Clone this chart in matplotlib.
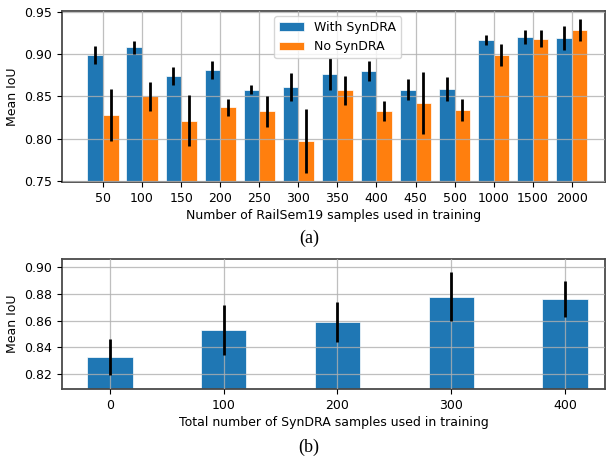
import numpy as np
import matplotlib.pyplot as plt

# Top panel: RailSem19 sample counts
rs_labels = ["50", "100", "150", "200", "250", "300", "350", "400", "450", "500", "1000", "1500", "2000"]
with_mean = [0.899, 0.908, 0.874, 0.881, 0.858, 0.861, 0.876, 0.880, 0.858, 0.859, 0.917, 0.920, 0.919]
with_err = [0.011, 0.008, 0.011, 0.011, 0.005, 0.017, 0.019, 0.012, 0.012, 0.014, 0.006, 0.008, 0.014]
no_mean = [0.828, 0.850, 0.821, 0.837, 0.832, 0.797, 0.857, 0.833, 0.842, 0.834, 0.899, 0.918, 0.929]
no_err = [0.031, 0.017, 0.030, 0.010, 0.018, 0.038, 0.017, 0.012, 0.037, 0.013, 0.013, 0.010, 0.013]

# Bottom panel: SynDRA sample counts
syn_counts = [0, 100, 200, 300, 400]
syn_mean = [0.833, 0.853, 0.859, 0.878, 0.876]
syn_err = [0.0134, 0.019, 0.015, 0.018, 0.0135]

blue = '#1f77b4'
orange = '#ff7f0e'

fig = plt.figure(figsize=(6.09, 4.59), dpi=100)
ax1 = fig.add_axes([62 / 609, 1 - 182 / 459, 543 / 609, 171 / 459])
ax2 = fig.add_axes([62 / 609, 1 - 389 / 459, 543 / 609, 130 / 459])

x = np.arange(len(rs_labels))
w = 0.4
ax1.bar(x - w / 2, with_mean, w, color=blue, edgecolor='white', linewidth=0.5, label='With SynDRA')
ax1.bar(x + w / 2, no_mean, w, color=orange, edgecolor='white', linewidth=0.5, label='No SynDRA')
# error bars sit above the grid
ax1.errorbar(x - w / 2, with_mean, yerr=with_err, fmt='none', ecolor='black', elinewidth=2.0, zorder=3)
ax1.errorbar(x + w / 2, no_mean, yerr=no_err, fmt='none', ecolor='black', elinewidth=2.0, zorder=3)
ax1.set_xticks(x)
ax1.set_xticklabels(rs_labels)
ax1.set_xlim(-1.05, 12.85)
ax1.set_ylim(0.7485, 0.951)
ax1.set_yticks([0.75, 0.80, 0.85, 0.90, 0.95])
ax1.set_ylabel('Mean IoU', fontsize=9)
ax1.set_xlabel('Number of RailSem19 samples used in training', fontsize=9, labelpad=3)
ax1.legend(loc='upper center', bbox_to_anchor=(0.508, 1.006), fontsize=9, handlelength=2.0)

ax2.bar(syn_counts, syn_mean, 40, color=blue, edgecolor='white', linewidth=0.5)
ax2.errorbar(syn_counts, syn_mean, yerr=syn_err, fmt='none', ecolor='black', elinewidth=2.0, zorder=3)
ax2.set_xticks(syn_counts)
ax2.set_xlim(-42, 435)
ax2.set_ylim(0.809, 0.906)
ax2.set_yticks([0.82, 0.84, 0.86, 0.88, 0.90])
ax2.set_ylabel('Mean IoU', fontsize=9)
ax2.set_xlabel('Total number of SynDRA samples used in training', fontsize=9, labelpad=3)

for ax in (ax1, ax2):
    ax.grid(True, color='#b0b0b0', linewidth=0.9, alpha=0.8)
    ax.set_axisbelow(False)
    ax.tick_params(labelsize=9)
    for s in ax.spines.values():
        s.set_color('#4a4a4a')
        s.set_linewidth(1.3)

fig.text(309 / 609, 1 - 238 / 459, '(a)', ha='center', va='center', fontsize=13, family='Liberation Serif')
fig.text(309 / 609, 1 - 447 / 459, '(b)', ha='center', va='center', fontsize=13, family='Liberation Serif')

fig.savefig('out.png', dpi=100)
